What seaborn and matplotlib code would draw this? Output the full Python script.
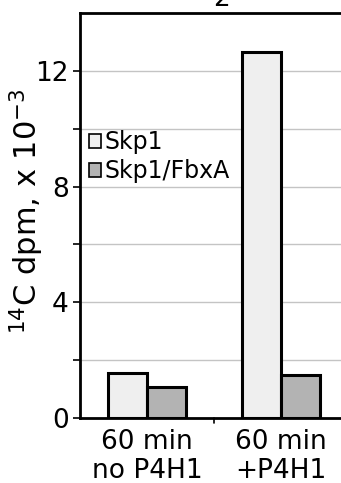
import matplotlib
matplotlib.use('Agg')
import matplotlib.pyplot as plt
import seaborn as sns
import pandas as pd
from matplotlib.patches import Patch

conditions = ['60 min\nno P4H1', '60 min\n+P4H1']
series = ['Skp1', 'Skp1/FbxA']
skp1_values = [1.56, 12.66]
fbxa_values = [1.07, 1.49]
colors = ['#efefef', '#b3b3b3']

df = pd.DataFrame({
    'Condition': conditions * 2,
    'Series': [series[0]] * 2 + [series[1]] * 2,
    'dpm': skp1_values + fbxa_values,
})

sns.set_style('white')
plt.rcParams['font.family'] = ['DejaVu Sans']
plt.rcParams['text.color'] = 'black'
plt.rcParams['axes.labelcolor'] = 'black'
plt.rcParams['xtick.color'] = 'black'
plt.rcParams['ytick.color'] = 'black'

fig = plt.figure(figsize=(3.41, 4.83), dpi=100)
ax = fig.add_axes([80 / 341, 1 - 418 / 483, 268 / 341, 405 / 483])

sns.barplot(data=df, x='Condition', y='dpm', hue='Series', palette=colors,
            width=0.58, edgecolor='black', linewidth=2.2, ax=ax, legend=False,
            zorder=3)

ax.set_xlim(-0.5, 1.5)
ax.set_ylim(0, 14)
ax.set_yticks(range(0, 14, 2))
ax.set_yticklabels(['0', '', '4', '', '8', '', '12'], fontsize=19)
ax.yaxis.grid(True, color='#c4c4c4', linewidth=1, zorder=0)
ax.set_axisbelow(True)
ax.tick_params(axis='y', direction='out', length=5, width=1.2, left=True, pad=3)
ax.tick_params(axis='x', length=0, labelsize=19, pad=8)
ax.set_xticks([0, 1])
ax.set_xticklabels(conditions, linespacing=1.12)
ax.axvline(0.5, ymin=-0.012, ymax=0, color='black', linewidth=1.2, clip_on=False)

for side in ['left', 'bottom', 'top', 'right']:
    ax.spines[side].set_visible(True)
    ax.spines[side].set_color('black')
    ax.spines[side].set_linewidth(2)

ax.set_xlabel('')
ax.set_ylabel(r'$^{14}$C dpm, x 10$^{-3}$', fontsize=22)
ax.yaxis.set_label_coords(-0.125, 0.51)

handles = [Patch(facecolor=c, edgecolor='black', linewidth=1.2) for c in colors]
ax.legend(handles, series, loc='upper left', bbox_to_anchor=(-0.02, 0.745),
          frameon=False, fontsize=17, handlelength=0.5, handleheight=0.5,
          handletextpad=0.15, labelspacing=0.2, borderaxespad=0.2)

fig.text(213 / 341, 1 - 6 / 483, '2', fontsize=19, va='baseline', ha='left')

fig.savefig('out.png', dpi=100)
